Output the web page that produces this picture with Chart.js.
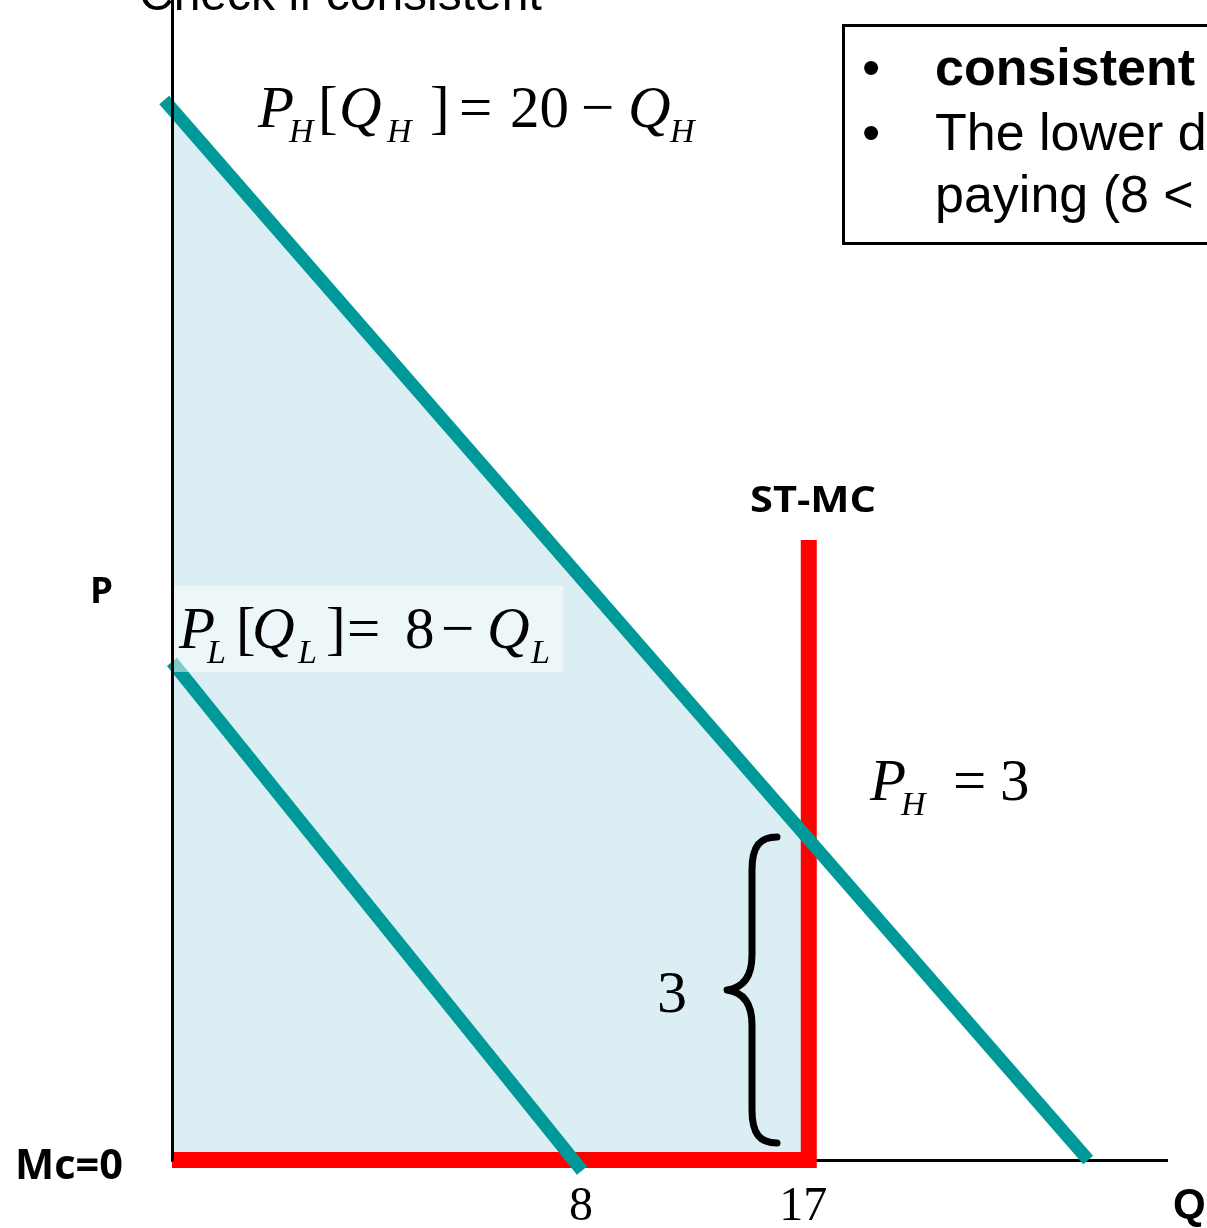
<!DOCTYPE html>
<html>
<head>
<meta charset="utf-8">
<script src="https://cdn.jsdelivr.net/npm/chart.js@4.4.6/dist/chart.umd.min.js"></script>
<style>
  html, body { margin: 0; padding: 0; background: #fff; overflow: hidden; }
  #wrap { width: 1207px; height: 1228px; position: relative; }
</style>
</head>
<body>
<div id="wrap"><canvas id="chart"></canvas></div>
<script>
// schematic diagram units: high demand P_H = 20 - Q_H
const highDemandQ = [-0.17, 20]
const highDemandP = [20, 0]
const lowDemandQ = [0, 8.95]
const lowDemandP = [9.4, -0.2]
const capacityQ = [0, 13.9, 13.9]
const capacityP = [0, 0, 11.7]
const surplusQ = [0, 13.9]
const surplusP = [19.83, 6.05]
const qTickValues = [8.93, 13.78]
const qTickLabels = ['8', '17']

const TEAL = '#009999'
const RED = '#ff0000'
const SHADE = '#daeef3'
const SERIF = '"Liberation Serif", "Times New Roman", serif'
const SANS = '"Liberation Sans", Arial, sans-serif'
const LABEL = '"Open Sans", "Noto Sans", sans-serif'

const toPoints = (xs, ys) => xs.map((x, i) => ({ x, y: ys[i] }))

function fitText(ctx, text, x, y, font, width) {
  ctx.font = font
  const w = ctx.measureText(text).width
  ctx.save()
  ctx.translate(x, y)
  ctx.scale(width / w, 1)
  ctx.fillText(text, 0, 0)
  ctx.restore()
}

// pieces: [text, x, baseline, font]
function drawPieces(ctx, pieces) {
  pieces.forEach(([t, x, y, f]) => {
    ctx.font = f
    ctx.fillText(t, x, y)
  })
}

const annotations = {
  id: 'annotations',
  afterDraw(chart) {
    const ctx = chart.ctx
    ctx.save()
    ctx.fillStyle = '#000'
    ctx.textAlign = 'left'
    ctx.textBaseline = 'alphabetic'

    // title, cut at the top edge
    ctx.font = '48px ' + SANS
    ctx.fillText('Check if consistent', 139, 10)

    // note box
    ctx.lineWidth = 3
    ctx.strokeStyle = '#000'
    ctx.strokeRect(843.5, 25.5, 420, 218)
    ctx.font = '52px ' + SANS
    ctx.fillText('\u2022', 862, 85)
    ctx.fillText('\u2022', 862, 150)
    ctx.font = 'bold 52px ' + SANS
    ctx.fillText('consistent', 935, 85)
    ctx.font = '52px ' + SANS
    ctx.fillText('The lower demand', 935, 150)
    ctx.fillText('paying (8 < 17)', 935, 212)

    const big = (it) => (it ? 'italic ' : '') + '59px ' + SERIF
    const sub = 'italic 34px ' + SERIF

    // P_H[Q_H] = 20 - Q_H
    drawPieces(ctx, [
      ['P', 258, 127, big(true)], ['H', 289, 142, sub],
      ['[', 318, 127, big(false)], ['Q', 339, 127, big(true)], ['H', 387, 142, sub],
      [']', 430, 127, big(false)], ['=', 459, 127, big(false)],
      ['20', 510, 127, big(false)], ['\u2212', 581, 127, big(false)],
      ['Q', 628, 127, big(true)], ['H', 670, 142, sub]
    ])

    // P_L label with pale backing
    ctx.fillStyle = 'rgba(255,255,255,0.5)'
    ctx.fillRect(174, 586, 389, 86)
    ctx.fillStyle = '#000'
    drawPieces(ctx, [
      ['P', 179, 648, big(true)], ['L', 207, 663, sub],
      ['[', 236, 648, big(false)], ['Q', 252, 648, big(true)], ['L', 298, 663, sub],
      [']', 326, 648, big(false)], ['=', 347, 648, big(false)],
      ['8', 405, 648, big(false)], ['\u2212', 441, 648, big(false)],
      ['Q', 487, 648, big(true)], ['L', 531, 663, sub]
    ])

    // P_H = 3
    drawPieces(ctx, [
      ['P', 870, 800, big(true)], ['H', 901, 815, sub],
      ['=', 953, 800, big(false)], ['3', 1000, 800, big(false)]
    ])

    // brace and its label
    ctx.lineWidth = 7
    ctx.lineCap = 'round'
    ctx.lineJoin = 'round'
    ctx.beginPath()
    ctx.moveTo(777, 837)
    ctx.bezierCurveTo(760, 837, 752, 846, 752, 870)
    ctx.lineTo(752, 955)
    ctx.bezierCurveTo(752, 978, 742, 988, 727, 990)
    ctx.bezierCurveTo(742, 992, 752, 1002, 752, 1025)
    ctx.lineTo(752, 1110)
    ctx.bezierCurveTo(752, 1134, 760, 1143, 777, 1143)
    ctx.stroke()
    ctx.textAlign = 'center'
    ctx.font = '60px ' + SERIF
    ctx.fillText('3', 672, 1012)

    // axis / curve labels
    ctx.textAlign = 'left'
    fitText(ctx, 'ST-MC', 750, 512, 'bold 35px ' + LABEL, 126)
    fitText(ctx, 'Mc=0', 15, 1179, 'bold 41px ' + LABEL, 108)
    fitText(ctx, 'P', 90, 603, 'bold 36px ' + LABEL, 23)
    ctx.font = 'bold 42px ' + SANS
    ctx.fillText('Q', 1173, 1218)
    ctx.restore()
  }
}

const lineStyle = {
  pointRadius: 0,
  tension: 0,
  fill: false,
  clip: false,
  borderCapStyle: 'butt',
  borderJoinStyle: 'miter'
}

new Chart(document.getElementById('chart'), {
  type: 'line',
  data: {
    datasets: [
      { ...lineStyle, label: 'High demand', data: toPoints(highDemandQ, highDemandP), borderColor: TEAL, borderWidth: 13 },
      { ...lineStyle, label: 'Low demand', data: toPoints(lowDemandQ, lowDemandP), borderColor: TEAL, borderWidth: 13 },
      { ...lineStyle, label: 'ST-MC', data: toPoints(capacityQ, capacityP), borderColor: RED, borderWidth: 16 },
      {
        ...lineStyle,
        label: 'Surplus',
        data: toPoints(surplusQ, surplusP),
        borderWidth: 0,
        borderColor: 'rgba(0,0,0,0)',
        backgroundColor: SHADE,
        fill: 'origin'
      }
    ]
  },
  options: {
    responsive: true,
    maintainAspectRatio: false,
    animation: false,
    events: [],
    layout: { padding: { left: 172, right: 40, top: 0, bottom: 0 } },
    plugins: { legend: { display: false }, tooltip: { enabled: false } },
    scales: {
      x: {
        type: 'linear',
        min: 0,
        max: 21.72,
        grid: { display: false, drawTicks: false },
        border: { display: true, color: '#000', width: 3 },
        afterBuildTicks: (scale) => {
          scale.ticks = qTickValues.map((value) => ({ value }))
        },
        afterFit: (scale) => {
          scale.height = 68
        },
        ticks: {
          autoSkip: false,
          maxRotation: 0,
          padding: 19,
          color: '#000',
          font: { family: SERIF, size: 48 },
          callback: (value, index) => qTickLabels[index]
        }
      },
      y: {
        type: 'linear',
        min: 0,
        max: 21.887,
        grid: { display: false, drawTicks: false },
        border: { display: true, color: '#000', width: 3, z: 1 },
        ticks: { display: false },
        afterFit: (scale) => {
          scale.width = 0
        }
      }
    }
  },
  plugins: [annotations]
})
</script>
</body>
</html>
